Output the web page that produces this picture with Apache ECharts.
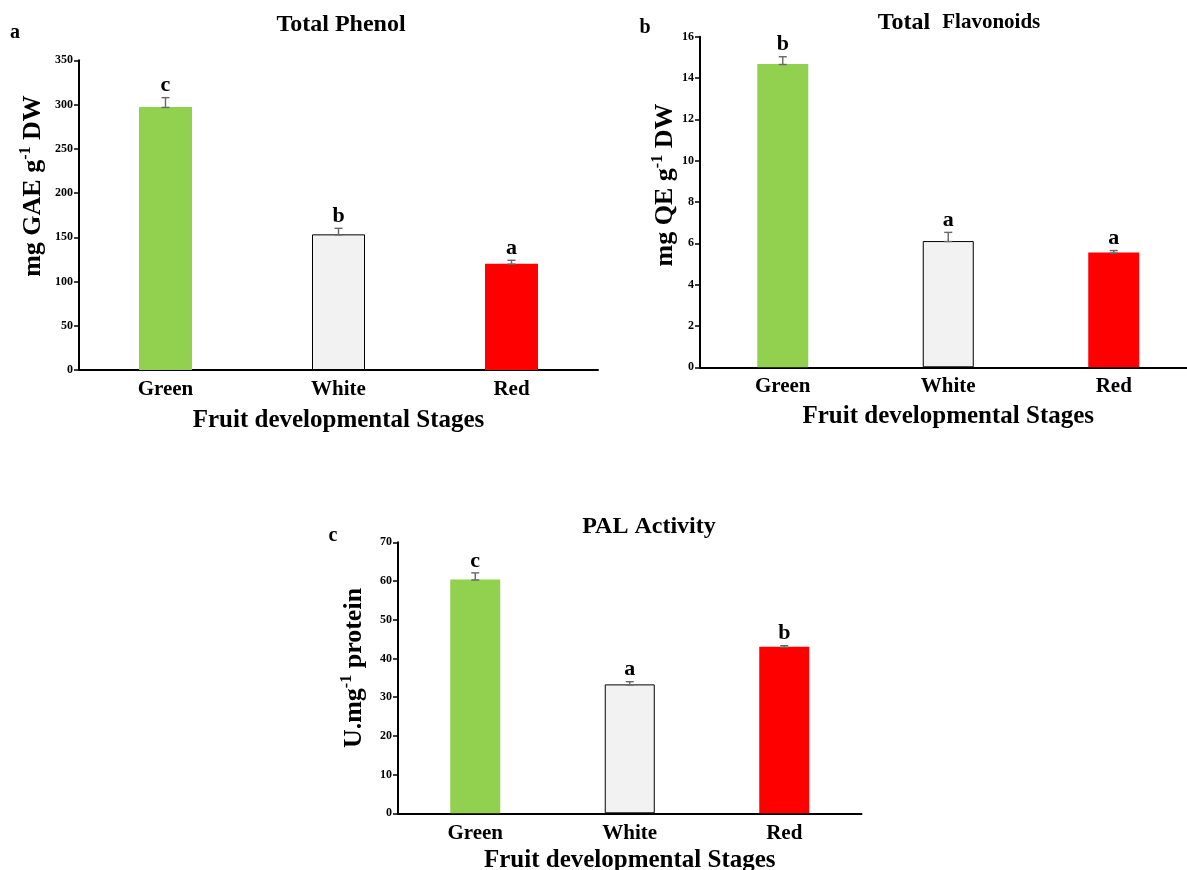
<!DOCTYPE html>
<html><head><meta charset="utf-8">
<script src="https://cdn.jsdelivr.net/npm/echarts@6/dist/echarts.min.js"></script>
<style>html,body{margin:0;padding:0;background:#fff;overflow:hidden}#c{width:1200px;height:870px}</style>
</head><body><div id="c"></div><script>
const categories = ['Green', 'White', 'Red'];
const phenolMean = [297.3, 153.3, 120.2];
const phenolErr = [10.5, 6.8, 3.8];
const phenolLetters = ['c', 'b', 'a'];
const flavMean = [14.68, 6.11, 5.55];
const flavErr = [0.35, 0.42, 0.10];
const flavLetters = ['b', 'a', 'a'];
const palMean = [60.4, 33.3, 43.0];
const palErr = [1.7, 0.7, 0.3];
const palLetters = ['c', 'a', 'b'];
const phenolAxis = { max: 350, interval: 50 };
const flavAxis = { max: 16, interval: 2 };
const palAxis = { max: 70, interval: 10 };

const FONT = '"Liberation Serif", "Times New Roman", serif';
const barColors = ['#92d050', '#f2f2f2', '#ff0000'];

const chart = echarts.init(document.getElementById('c'));

const grids = [
  { left: 79, top: 60.3, width: 519, height: 309.7, outerBoundsMode: 'none', containLabel: false },
  { left: 700, top: 36.7, width: 496.5, height: 330.6, outerBoundsMode: 'none', containLabel: false },
  { left: 398, top: 542.3, width: 463.5, height: 271, outerBoundsMode: 'none', containLabel: false }
];
const axes = [phenolAxis, flavAxis, palAxis];
const nameGaps = [38, 37, 35];
const labelMargins = [9, 9, 10];
const barWidths = [53, 51, 50];
const means = [phenolMean, flavMean, palMean];
const errs = [phenolErr, flavErr, palErr];
const letters = [phenolLetters, flavLetters, palLetters];

function errItem(m, e, l) {
  return function (params, api) {
    const i = params.dataIndex;
    const base = api.coord([i, m[i]]);
    const top = api.coord([i, m[i] + e[i]]);
    const st = { stroke: '#666', lineWidth: 1.4 };
    return {
      type: 'group', children: [
        { type: 'line', shape: { x1: base[0], y1: base[1], x2: top[0], y2: top[1] }, style: st },
        { type: 'line', shape: { x1: top[0] - 4, y1: top[1], x2: top[0] + 4, y2: top[1] }, style: st },
        { type: 'line', shape: { x1: base[0] - 4, y1: base[1] + 0.5, x2: base[0] + 4, y2: base[1] + 0.5 }, style: st },
        { type: 'text', x: top[0], y: top[1] - 1, style: { text: l[i], fontFamily: FONT, fontWeight: 'bold', fontSize: 22, fill: '#000', align: 'center', verticalAlign: 'bottom' } }
      ]
    };
  };
}

const xAxis = [], yAxis = [], series = [];
for (let g = 0; g < 3; g++) {
  xAxis.push({
    gridIndex: g, type: 'category', data: categories,
    axisLine: { lineStyle: { color: '#000', width: 2 } },
    axisTick: { alignWithLabel: true, length: 5, lineStyle: { color: '#000', width: 1.5 } },
    axisLabel: { fontFamily: FONT, fontWeight: 'bold', fontSize: 21, color: '#000', margin: labelMargins[g] },
    name: 'Fruit developmental Stages', nameLocation: 'middle', nameGap: nameGaps[g],
    nameTextStyle: { fontFamily: FONT, fontWeight: 'bold', fontSize: 25, color: '#000' }
  });
  yAxis.push({
    gridIndex: g, type: 'value', min: 0, max: axes[g].max, interval: axes[g].interval,
    axisLine: { show: true, lineStyle: { color: '#000', width: 2 } },
    axisTick: { show: true, length: 5, lineStyle: { color: '#000', width: 1.5 } },
    axisLabel: { fontFamily: FONT, fontWeight: 'bold', fontSize: 12, color: '#000', margin: 6 },
    splitLine: { show: false }
  });
  series.push({
    type: 'bar', xAxisIndex: g, yAxisIndex: g, barWidth: barWidths[g],
    data: means[g].map((v, i) => ({
      value: v,
      itemStyle: { color: barColors[i], borderColor: i === 1 ? '#000' : barColors[i], borderWidth: i === 1 ? 1 : 0 }
    })),
    animation: false, z: 2
  });
  series.push({
    type: 'custom', xAxisIndex: g, yAxisIndex: g, clip: false, z: 3,
    data: means[g].map((v, i) => [i, v]),
    encode: { x: 0, y: 1 },
    renderItem: errItem(means[g], errs[g], letters[g]),
    animation: false
  });
}

function yName(x, y, main1, sup, main2) {
  return {
    type: 'text', x: x, y: y, rotation: Math.PI / 2,
    style: {
      text: '{m|' + main1 + '}{s|' + sup + '}{m|' + main2 + '}',
      align: 'center', verticalAlign: 'middle',
      rich: {
        m: { fontFamily: FONT, fontWeight: 'bold', fontSize: 26, fill: '#000', lineHeight: 30 },
        s: { fontFamily: FONT, fontWeight: 'bold', fontSize: 16, fill: '#000', verticalAlign: 'top', lineHeight: 30 }
      }
    }
  };
}
function label(x, y, text, size) {
  return { type: 'text', x: x, y: y, style: { text: text, fontFamily: FONT, fontWeight: 'bold', fontSize: size, fill: '#000', align: 'center', verticalAlign: 'middle' } };
}

chart.setOption({
  animation: false,
  grid: grids,
  xAxis: xAxis,
  yAxis: yAxis,
  series: series,
  graphic: [
    label(341, 25, 'Total Phenol', 24),
    {
      type: 'text', x: 959, y: 23,
      style: {
        text: '{t|Total  }{f|Flavonoids}', align: 'center', verticalAlign: 'middle',
        rich: {
          t: { fontFamily: FONT, fontWeight: 'bold', fontSize: 24, fill: '#000' },
          f: { fontFamily: FONT, fontWeight: 'bold', fontSize: 21, fill: '#000' }
        }
      }
    },
    label(649, 527, 'PAL Activity', 24),
    label(15, 33, 'a', 20),
    label(645, 28, 'b', 20),
    label(333, 536, 'c', 20),
    yName(33, 186, 'mg GAE g', '-1', ' DW'),
    yName(665, 185, 'mg QE g', '-1', ' DW'),
    yName(354, 668, 'U.mg', '-1', ' protein')
  ]
});
</script></body></html>
